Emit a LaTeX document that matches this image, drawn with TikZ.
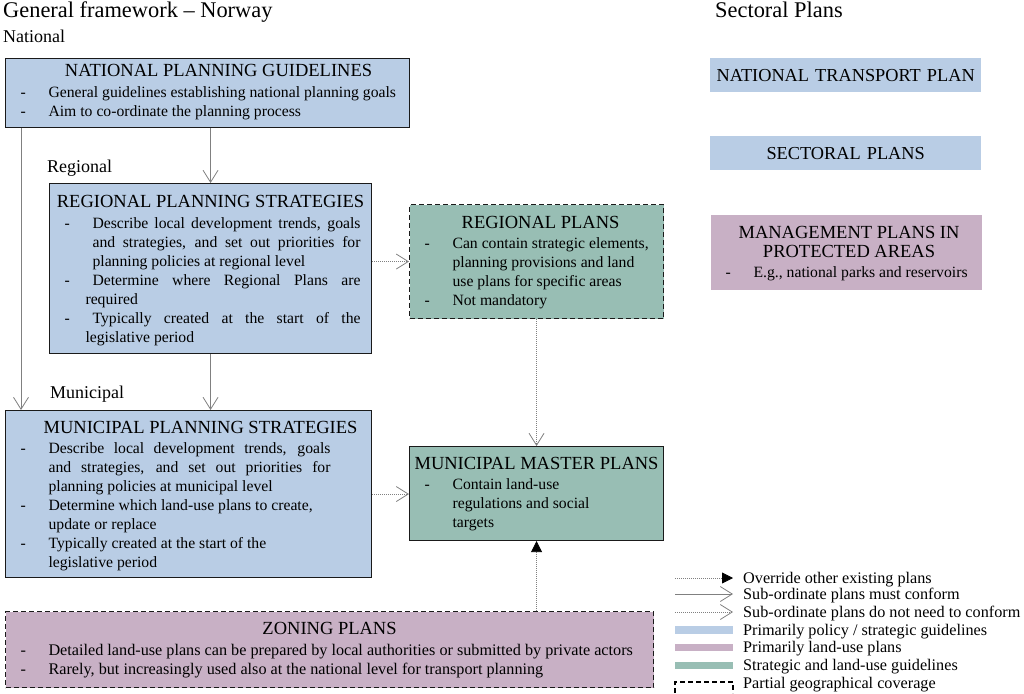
\documentclass[tikz,border=0pt]{standalone}
\usepackage{fontspec}
\setmainfont{Liberation Serif}
\usetikzlibrary{arrows.meta}

\definecolor{policyblue}{HTML}{B9CDE5}
\definecolor{landpurple}{HTML}{C8B0C5}
\definecolor{mixedgreen}{HTML}{98BEB4}
\definecolor{arrowgray}{HTML}{808080}
\definecolor{boxline}{HTML}{1A1A1A}

\hyphenpenalty=10000
\exhyphenpenalty=10000
\tolerance=9999
\hbadness=10000

% box texts: lift, title line(s) and "-" items
\newcommand{\planlift}[1]{\vspace*{-#1}}
\newcommand{\planhead}[2][0pt]{\par\noindent\hbox to\hsize{\hss\kern#1\fontsize{18.5}{19.5}\selectfont #2\hss}\par}
\newcommand{\plantitle}[2][0pt]{\planhead[#1]{#2}\vspace{1.5pt}}
\newcommand{\planitem}[1]{\par\noindent\hangindent=37pt\hangafter=1\makebox[37pt][l]{\hspace{9pt}-}#1\par}

\begin{document}
\begin{tikzpicture}[
    x=1pt, y=-1pt,
    planbox/.style={anchor=north west, inner xsep=6pt, inner ysep=0pt, line width=1.1pt,
      align=justify, font=\fontsize{15.7}{19}\selectfont},
    policy/.style={planbox, draw=boxline, fill=policyblue},
    landuse/.style={planbox, draw=boxline, fill=landpurple},
    mixed/.style={planbox, draw=boxline, fill=mixedgreen},
    partial/.style={dash pattern=on 5pt off 3pt},
    sector/.style={anchor=north west, inner xsep=6pt, inner ysep=0pt, align=center, font=\fontsize{18.3}{19.5}\selectfont},
    conform/.style={draw=arrowgray, line width=0.8pt, -{Straight Barb[length=12pt, width=15pt, line width=0.8pt]}},
    noconform/.style={conform, dash pattern=on 1pt off 1pt},
    override/.style={draw=arrowgray, line width=0.8pt, dash pattern=on 1pt off 1pt, -{Triangle[length=11pt, width=11pt, color=black]}},
    heading/.style={anchor=base west, inner sep=0pt, font=\fontsize{22.4}{24}\selectfont},
    level/.style={anchor=base west, inner sep=0pt, font=\fontsize{18}{20}\selectfont},
    keytext/.style={anchor=base west, inner sep=0pt, font=\fontsize{16.2}{18}\selectfont}
  ]
  \useasboundingbox (0,0) rectangle (1024,693);

  % Headings
  \node[heading] (framework) at (3,18) {General framework -- Norway};
  \node[heading] (sectoral) at (715,18) {Sectoral Plans};
  \node[level] (national) at (3,42) {National};
  \node[level] (regional) at (47,172) {Regional};
  \node[level] (municipal) at (50,398) {Municipal};

  % General framework
  \node[policy, text width=392pt, minimum height=69pt] (npg) at (5,58) {
    \rightskip=0pt minus 6pt
    \planlift{9pt}
    \plantitle[22pt]{NATIONAL PLANNING GUIDELINES}
    \planitem{General guidelines establishing national planning goals}
    \planitem{Aim to co-ordinate the planning process}
  };
  \node[policy, text width=310pt, minimum height=170pt] (rps) at (49,183) {
    \rightskip=5pt minus 6pt
    \planlift{3pt}
    \plantitle{REGIONAL PLANNING STRATEGIES}
    \planitem{Describe local development trends, goals\linebreak and strategies, and set out priorities for\linebreak planning policies at regional level}
    \planitem{Determine where Regional Plans are\linebreak\mbox{}\kern-7pt required}
    \planitem{Typically created at the start of the\linebreak\mbox{}\kern-7pt legislative period}
  };
  \node[policy, text width=354pt, minimum height=167pt] (mps) at (5,410) {
    \rightskip=35pt minus 6pt
    \planlift{3pt}
    \plantitle[24pt]{MUNICIPAL PLANNING STRATEGIES}
    \planitem{Describe local development trends, goals\linebreak and strategies, and set out priorities for\linebreak planning policies at municipal level}
    \planitem{Determine which land-use plans to create,\newline update or replace}
    \planitem{Typically created at the start of the\newline legislative period}
  };
  \node[mixed, partial, text width=242pt, minimum height=114pt] (rp) at (409,204) {
    \rightskip=0pt minus 6pt
    \planlift{5pt}
    \plantitle[8pt]{REGIONAL PLANS}
    \planitem{Can contain strategic elements,\newline planning provisions and land\newline use plans for specific areas}
    \planitem{Not mandatory}
  };
  \node[mixed, text width=242pt, minimum height=94pt] (mmp) at (409,446) {
    \planlift{6pt}
    \plantitle{MUNICIPAL MASTER PLANS}
    \planitem{Contain land-use\newline regulations and social\newline targets}
  };
  \node[landuse, partial, text width=636pt, minimum height=76pt, font=\fontsize{16.2}{19}\selectfont] (zp) at (5,611) {
    \planlift{6pt}
    \plantitle{ZONING PLANS}
    \planitem{Detailed land-use plans can be prepared by local authorities or submitted by private actors}
    \planitem{Rarely, but increasingly used also at the national level for transport planning}
  };

  % Sectoral plans
  \node[sector, fill=policyblue, text width=259pt, minimum height=34pt] (ntp) at (710,58) {NATIONAL TRANSPORT PLAN};
  \node[sector, fill=policyblue, text width=259pt, minimum height=34pt] (sp) at (710,136) {SECTORAL PLANS};
  \node[planbox, fill=landpurple, text width=259pt, minimum height=75pt] (mpa) at (710,214) {
    \rightskip=0pt minus 6pt
    \planlift{4pt}
    \planhead[6pt]{MANAGEMENT PLANS IN}
    \plantitle[6pt]{PROTECTED AREAS}
    \planitem{E.g., national parks and reservoirs}
  };

  % Connectors
  \coordinate (natleft) at ([xshift=16pt]npg.south west);
  \draw[conform] (natleft) -- (natleft |- mps.north);
  \draw[conform] (rps.north |- npg.south) -- (rps.north);
  \draw[conform] (rps.south) -- (rps.south |- mps.north);
  \draw[noconform] (rps.east |- rp.west) -- (rp.west);
  \draw[noconform] (rp.south) -- (mmp.north);
  \draw[noconform] (mps.east) -- (mps.east -| mmp.west);
  \draw[override] (zp.north -| mmp.south) -- (mmp.south);

  % Legend
  \coordinate (k1w) at (675,578); \coordinate (k1e) at (733,578);
  \coordinate (k2w) at (675,594); \coordinate (k2e) at (733,594);
  \coordinate (k3w) at (675,612); \coordinate (k3e) at (733,612);
  \draw[override] (k1w) -- (k1e);
  \draw[conform] (k2w) -- (k2e);
  \draw[noconform] (k3w) -- (k3e);
  \fill[policyblue] (675,626) rectangle (733,634);
  \fill[landpurple] (675,644) rectangle (733,651);
  \fill[mixedgreen] (675,662) rectangle (733,669);
  \draw[partial, line width=1.1pt] (675,693) |- (733,682) -- (733,693);
  \node[keytext] (key1) at (743,583) {Override other existing plans};
  \node[keytext] (key2) at (743,599) {Sub-ordinate plans must conform};
  \node[keytext] (key3) at (743,617) {Sub-ordinate plans do not need to conform};
  \node[keytext] (key4) at (743,635) {Primarily policy / strategic guidelines};
  \node[keytext] (key5) at (743,652) {Primarily land-use plans};
  \node[keytext] (key6) at (743,670) {Strategic and land-use guidelines};
  \node[keytext] (key7) at (743,688) {Partial geographical coverage};

\end{tikzpicture}
\end{document}
